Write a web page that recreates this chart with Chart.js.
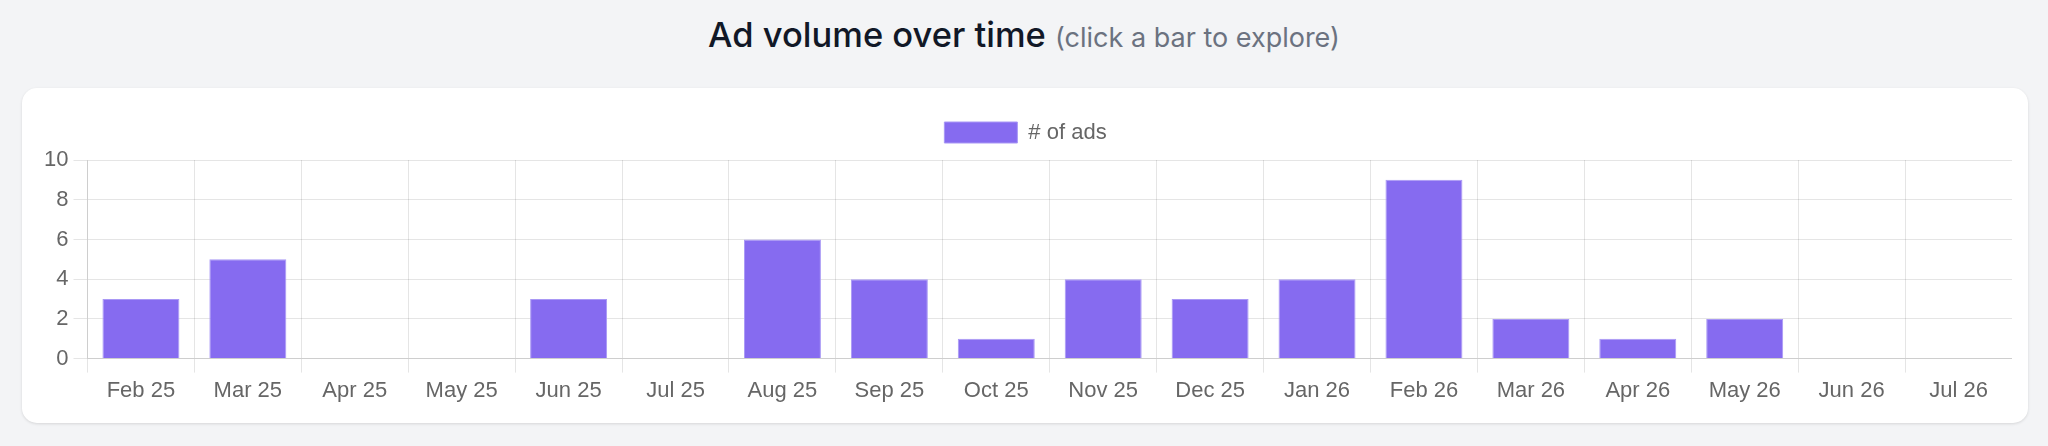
<!DOCTYPE html>
<html>
<head>
<meta charset="utf-8">
<script src="https://cdn.jsdelivr.net/npm/chart.js@4.4.1/dist/chart.umd.min.js"></script>
<style>
  html, body { margin: 0; padding: 0; background: #f3f4f6; }
  body { width: 2048px; height: 446px; position: relative; overflow: hidden; }
  #titulo {
    position: absolute; left: 0; top: 10px; width: 2048px; text-align: center;
    font-family: Inter, "Noto Sans", sans-serif; font-size: 34.5px; font-weight: 500;
    color: #111827; line-height: 50px;
  }
  #titulo span { font-size: 27px; font-weight: 400; color: #6b7280; }
  #tarjeta {
    position: absolute; left: 22px; top: 88px; width: 2006px; height: 335px;
    background: #fff; border-radius: 15px;
    box-shadow: 0 1px 3px rgba(0,0,0,0.12);
  }
  #grafica { position: absolute; left: 17px; top: 16px; width: 1973px; height: 305px; }
</style>
</head>
<body>
<div id="titulo">Ad volume over time <span>(click a bar to explore)</span></div>
<div id="tarjeta">
  <div id="grafica"><canvas id="myChart"></canvas></div>
</div>
<script>
// datos de la grafica
var meses = ['Feb 25', 'Mar 25', 'Apr 25', 'May 25', 'Jun 25', 'Jul 25', 'Aug 25', 'Sep 25', 'Oct 25',
    'Nov 25', 'Dec 25', 'Jan 26', 'Feb 26', 'Mar 26', 'Apr 26', 'May 26', 'Jun 26', 'Jul 26']
var numero_anuncios = [3, 5, 0, 0, 3, 0, 6, 4, 1, 4, 3, 4, 9, 2, 1, 2, 0, 0]
var ticks_y = [0, 2, 4, 6, 8, 10]

Chart.defaults.font.family = '"Liberation Sans", Arial, Helvetica, sans-serif'
Chart.defaults.font.size = 22
Chart.defaults.color = '#666'

// hace la leyenda un poco mas alta, como en la captura
var leyendaAlta = {
    id: 'leyendaAlta',
    beforeInit: function (chart) {
        var fitOriginal = chart.legend.fit
        chart.legend.fit = function () {
            fitOriginal.call(this)
            this.height += 6.5
        }
    }
}

var ctx = document.getElementById("myChart").getContext("2d");
new Chart(ctx, {
    type: "bar",
    data: {
        labels: meses,
        datasets: [{
            label: '# of ads',
            data: numero_anuncios,
            backgroundColor: '#866bf0',
            borderColor: '#a998f5',
            borderWidth: 1
        }]
    },
    options: {
        responsive: true,
        maintainAspectRatio: false,
        animation: false,
        plugins: {
            legend: {
                labels: { boxWidth: 73, boxHeight: 21, padding: 17.5 }
            },
            tooltip: { enabled: false }
        },
        scales: {
            x: {
                grid: { tickLength: 14 },
                ticks: { padding: 5 }
            },
            y: {
                min: ticks_y[0],
                max: ticks_y[ticks_y.length - 1],
                grid: { tickLength: 14 },
                ticks: { stepSize: 2, padding: 5 }
            }
        }
    },
    plugins: [leyendaAlta]
});
</script>
</body>
</html>
